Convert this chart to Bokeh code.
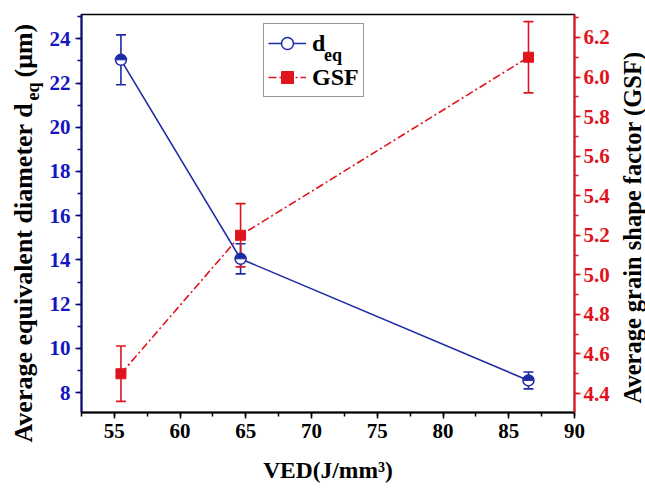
import numpy as np
from bokeh.plotting import figure
from bokeh.layouts import row
from bokeh.core.properties import value
from bokeh.models import (Range1d, LinearAxis, SingleIntervalTicker, NumeralTickFormatter,
                          ColumnDataSource, Whisker, TeeHead, Legend, LegendItem)
from bokeh.embed import file_html
from bokeh.resources import INLINE

# ---- data ----
ved = [55.5, 64.6, 86.5]
deq = [23.05, 14.05, 8.55]
deq_err = [1.13, 0.68, 0.38]
gsf = [4.5, 5.2, 6.1]
gsf_err = [0.14, 0.16, 0.18]

x_title = "VED(J/mm³)"
left_title_main = "Average equivalent diameter d"
left_title_sub = "eq"
left_title_tail = "(μm)"
right_title = "Average grain shape factor (GSF)"
legend_labels = ["d", "GSF"]
legend_sub = "eq"

FONT = "Liberation Serif"
BLUE = "#1F2BA6"
BLUE_TXT = "#1515C0"
NAVY = "#0A0A78"
RED = "#E0141E"

# layout constants (pixels)
H = 489
LEFT_W, RIGHT_W = 46, 33
MAIN_W = 645 - LEFT_W - RIGHT_W
X0, X1 = 52.5, 90
Y0, Y1 = 7.1, 25.1
FRAME_W, FRAME_H = 494, 398
BORDER_L, BORDER_T = 34, 14


def side_fig(w):
    f = figure(width=w, height=H, output_backend="svg", toolbar_location=None,
               x_range=Range1d(0, w), y_range=Range1d(0, H),
               x_axis_type=None, y_axis_type=None, min_border=0)
    f.frame_align = False
    f.grid.visible = False
    f.outline_line_color = None
    f.background_fill_color = "white"
    f.border_fill_color = "white"
    return f


# ---- main plot ----
p = figure(width=MAIN_W, height=H, output_backend="svg", toolbar_location=None,
           x_range=Range1d(X0, X1), y_range=Range1d(Y0, Y1),
           min_border_left=BORDER_L, min_border_right=MAIN_W - BORDER_L - FRAME_W,
           min_border_top=BORDER_T, min_border_bottom=H - BORDER_T - FRAME_H,
           x_axis_label=x_title)
p.frame_align = False
p.extra_y_ranges = {"gsf": Range1d(4.304, 6.316)}
raxis = LinearAxis(y_range_name="gsf")
p.add_layout(raxis, "right")
p.grid.visible = False
p.outline_line_color = "black"
p.outline_line_width = 1.5
p.background_fill_color = "white"
p.border_fill_color = "white"

xaxis = p.xaxis[0]
laxis = p.yaxis[0]

xaxis.ticker = SingleIntervalTicker(interval=5, num_minor_ticks=2)
laxis.ticker = SingleIntervalTicker(interval=2, num_minor_ticks=2)
raxis.ticker = SingleIntervalTicker(interval=0.2, num_minor_ticks=2)
raxis.formatter = NumeralTickFormatter(format="0.0")

for ax, lc, tc in [(xaxis, "black", "black"), (laxis, NAVY, BLUE_TXT), (raxis, RED, RED)]:
    ax.axis_line_color = lc
    ax.axis_line_width = 2
    ax.major_tick_line_color = lc
    ax.minor_tick_line_color = lc
    ax.major_tick_line_width = 1.5
    ax.minor_tick_line_width = 1.5
    ax.major_tick_in = 0
    ax.major_tick_out = 6
    ax.minor_tick_in = 0
    ax.minor_tick_out = 4
    ax.major_label_text_font = FONT
    ax.major_label_text_font_style = "bold"
    ax.major_label_text_font_size = "21px"
    ax.major_label_text_color = tc
    ax.major_label_standoff = 5
raxis.major_label_standoff = 3

xaxis.axis_label_text_font = FONT
xaxis.axis_label_text_font_style = "bold"
xaxis.axis_label_text_font_size = "23.5px"
xaxis.axis_label_text_color = "black"
xaxis.axis_label_standoff = 16

# ---- deq series ----
src_d = ColumnDataSource(dict(x=ved, y=deq,
                              upper=[v + e for v, e in zip(deq, deq_err)],
                              lower=[v - e for v, e in zip(deq, deq_err)]))
line_d = p.line("x", "y", source=src_d, line_color=BLUE, line_width=1.6)
wd = Whisker(source=src_d, base="x", upper="upper", lower="lower", dimension="height",
             line_color=BLUE, line_width=1.6,
             upper_head=TeeHead(size=10, line_color=BLUE, line_width=1.6),
             lower_head=TeeHead(size=10, line_color=BLUE, line_width=1.6))
p.add_layout(wd)
circ = p.scatter("x", "y", source=src_d, marker="circle", size=11, fill_color="white",
                 line_color=BLUE, line_width=1.5)
p.wedge("x", "y", source=src_d, radius=5, radius_units="screen", start_angle=0,
        end_angle=np.pi, fill_color=BLUE, line_color=BLUE, line_width=1)

# ---- GSF series ----
src_g = ColumnDataSource(dict(x=ved, y=gsf,
                              upper=[v + e for v, e in zip(gsf, gsf_err)],
                              lower=[v - e for v, e in zip(gsf, gsf_err)]))
line_g = p.line("x", "y", source=src_g, y_range_name="gsf", line_color=RED,
                line_width=1.6, line_dash="8 3 2 3")
wg = Whisker(source=src_g, base="x", upper="upper", lower="lower", dimension="height",
             y_range_name="gsf", line_color=RED, line_width=1.6,
             upper_head=TeeHead(size=10, line_color=RED, line_width=1.6),
             lower_head=TeeHead(size=10, line_color=RED, line_width=1.6))
p.add_layout(wg)
sq = p.scatter("x", "y", source=src_g, y_range_name="gsf", marker="square", size=10,
               fill_color=RED, line_color=RED)

# ---- legend ----
legend = Legend(items=[LegendItem(label=legend_labels[0], renderers=[line_d, circ]),
                       LegendItem(label=legend_labels[1], renderers=[line_g, sq])],
                location=(182, 315), margin=0, padding=4, spacing=4,
                glyph_width=38, glyph_height=30, label_height=30, label_standoff=6,
                label_text_font=FONT, label_text_font_style="bold",
                label_text_font_size="24px", label_text_color="black",
                border_line_color="#333333", border_line_width=1.5,
                background_fill_alpha=0.0)
p.add_layout(legend)

# subscript of the legend label, placed just after the "d" (pixel offsets inside the frame)
sub_px, sub_py = 323 - (BORDER_L + LEFT_W), 54 - BORDER_T
p.text(x=[X0 + sub_px * (X1 - X0) / FRAME_W], y=[Y1 - sub_py * (Y1 - Y0) / FRAME_H],
       text=[legend_sub], text_font=value(FONT), text_font_style="bold",
       text_font_size="18px", text_color="black", text_align="left",
       text_baseline="alphabetic")

# ---- left title (own narrow panel, y measured upward from the bottom) ----
fl = side_fig(LEFT_W)
common = dict(angle=np.pi / 2, text_font=value(FONT), text_font_style="bold",
              text_color="black", text_align="left", text_baseline="top")
fl.text(x=[8], y=[H - 442], text=[left_title_main], text_font_size="26px", **common)
fl.text(x=[22], y=[H - 100], text=[left_title_sub], text_font_size="18px", **common)
fl.text(x=[8], y=[H - 77], text=[left_title_tail], text_font_size="26px", **common)

# ---- right title ----
fr = side_fig(RIGHT_W)
fr.text(x=[RIGHT_W - 13], y=[H - 227], text=[right_title], angle=np.pi / 2,
        text_font=value(FONT), text_font_style="bold", text_font_size="24.5px",
        text_color="black", text_align="center", text_baseline="middle")

layout = row(fl, p, fr)
open("out.html", "w").write(file_html(layout, INLINE))
